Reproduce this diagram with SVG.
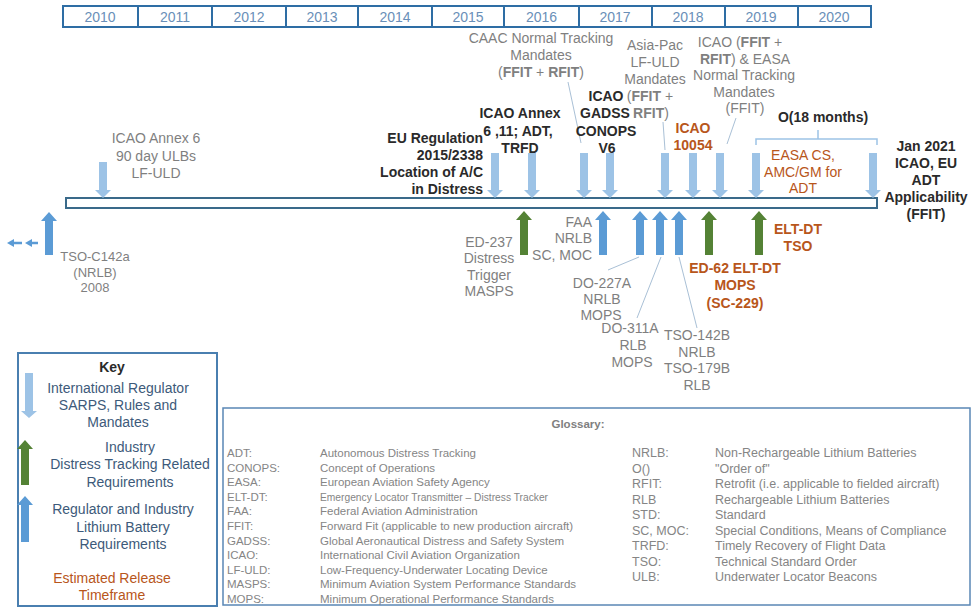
<svg xmlns="http://www.w3.org/2000/svg" width="972" height="607" viewBox="0 0 972 607">
<style>
text{font-family:"Liberation Sans",Arial,sans-serif;font-size:14px;text-anchor:middle}
.yr{fill:#6a8fb8}
.g{fill:#7f7f7f}
.b{font-weight:bold;fill:#2a2a2a}
.br{font-weight:bold;fill:#b8561b}
.brn{fill:#b8561b}
.k{fill:#3d5a7a}
.gl{font-size:11.5px;fill:#858585;text-anchor:start}
.gr{font-size:12.5px;fill:#858585;text-anchor:start}
.dn{fill:#9dc3e6}
.up{fill:#5b9bd5}
.gn{fill:#548235}
.ld{stroke:#a9c0d6;stroke-width:1;fill:none}
</style>
<rect width="972" height="607" fill="#ffffff"/>

<g id="years">
<rect x="63" y="6" width="808" height="21" fill="#fff" stroke="#2e6da4" stroke-width="2"/>
<path d="M138 6V27M212 6V27M286 6V27M358 6V27M432 6V27M504 6V27M579 6V27M652 6V27M725 6V27M798 6V27" stroke="#2e6da4" stroke-width="2"/>
<text class="yr" x="100" y="21.5">2010</text>
<text class="yr" x="175" y="21.5">2011</text>
<text class="yr" x="249" y="21.5">2012</text>
<text class="yr" x="322" y="21.5">2013</text>
<text class="yr" x="395" y="21.5">2014</text>
<text class="yr" x="468" y="21.5">2015</text>
<text class="yr" x="541.5" y="21.5">2016</text>
<text class="yr" x="615" y="21.5">2017</text>
<text class="yr" x="688" y="21.5">2018</text>
<text class="yr" x="761" y="21.5">2019</text>
<text class="yr" x="834" y="21.5">2020</text>
</g>

<g id="timeline">
<rect x="66" y="198" width="811" height="10" fill="#fff" stroke="#3a6a8a" stroke-width="2"/>
</g>

<g id="connectors">
<path class="ld" d="M568 82L581 143"/>
<path class="ld" d="M663 122L665 150"/>
<path class="ld" d="M736 118L727 144"/>
<path d="M756 145V139H877V145M818 139V130" stroke="#9dc3e6" stroke-width="1.5" fill="none"/>
<path class="ld" d="M608 270L639 257"/>
<path class="ld" d="M637 318L661 257"/>
<path class="ld" d="M697 328L679 257"/>
</g>

<g id="icao-annex6">
<polygon class="dn" points="99,162 107,162 107,190 111,190 103,198 95,190 99,190"/>
<text class="g" x="156" y="143">ICAO Annex 6</text>
<text class="g" x="156" y="160.5">90 day ULBs</text>
<text class="g" x="156" y="178">LF-ULD</text>
</g>

<g id="eu-regulation">
<polygon class="dn" points="491,153 499,153 499,190 503,190 495,198 487,190 491,190"/>
<text class="b" style="text-anchor:end" x="483" y="143">EU Regulation</text>
<text class="b" style="text-anchor:end" x="483" y="160">2015/2338</text>
<text class="b" style="text-anchor:end" x="483" y="177">Location of A/C</text>
<text class="b" style="text-anchor:end" x="483" y="194">in Distress</text>
</g>

<g id="icao-annex-6-11">
<polygon class="dn" points="528,153 536,153 536,190 540,190 532,198 524,190 528,190"/>
<text class="b" x="520" y="118">ICAO Annex</text>
<text class="b" x="518" y="136">6 ,11; ADT,</text>
<text class="b" x="520" y="153">TRFD</text>
</g>

<g id="caac">
<polygon class="dn" points="580,153 588,153 588,190 592,190 584,198 576,190 580,190"/>
<text class="g" x="541" y="43">CAAC Normal Tracking</text>
<text class="g" x="541" y="60">Mandates</text>
<text class="g" x="541" y="77">(<tspan font-weight="bold">FFIT</tspan> + <tspan font-weight="bold">RFIT</tspan>)</text>
</g>

<g id="icao-gadss">
<polygon class="dn" points="606,153 614,153 614,190 618,190 610,198 602,190 606,190"/>
<text class="b" x="606" y="101">ICAO</text>
<text class="b" x="605" y="118">GADSS</text>
<text class="b" x="606" y="136">CONOPS</text>
<text class="b" x="607" y="153">V6</text>
</g>

<g id="asia-pac">
<polygon class="dn" points="661,153 669,153 669,190 673,190 665,198 657,190 661,190"/>
<text class="g" x="655" y="50">Asia-Pac</text>
<text class="g" x="655" y="67">LF-ULD</text>
<text class="g" x="655" y="84">Mandates</text>
<text class="g" x="650" y="101">(<tspan font-weight="bold">FFIT</tspan> +</text>
<text class="g" x="651" y="118"><tspan font-weight="bold">RFIT</tspan>)</text>
</g>

<g id="icao-10054">
<polygon class="dn" points="689,153 697,153 697,190 701,190 693,198 685,190 689,190"/>
<text class="br" x="693" y="133">ICAO</text>
<text class="br" x="693" y="150">10054</text>
</g>

<g id="icao-easa-normal">
<polygon class="dn" points="716,153 724,153 724,190 728,190 720,198 712,190 716,190"/>
<text class="g" x="740" y="47">ICAO (<tspan font-weight="bold">FFIT</tspan> +</text>
<text class="g" x="745" y="63.5"><tspan font-weight="bold">RFIT</tspan>) &amp; EASA</text>
<text class="g" x="744" y="80">Normal Tracking</text>
<text class="g" x="744" y="96.5">Mandates</text>
<text class="g" x="745" y="113">(FFIT)</text>
</g>

<g id="easa-cs">
<polygon class="dn" points="752,153 760,153 760,190 764,190 756,198 748,190 752,190"/>
<text class="b" x="823" y="122">O(18 months)</text>
<text class="brn" x="803" y="160">EASA CS,</text>
<text class="brn" x="803" y="177">AMC/GM for</text>
<text class="brn" x="803" y="193">ADT</text>
</g>

<g id="jan-2021">
<polygon class="dn" points="869,153 877,153 877,190 881,190 873,198 865,190 869,190"/>
<text class="b" x="926" y="151">Jan 2021</text>
<text class="b" x="926" y="168">ICAO, EU</text>
<text class="b" x="926" y="185">ADT</text>
<text class="b" x="926" y="202">Applicability</text>
<text class="b" x="926" y="219">(FFIT)</text>
</g>

<g id="tso-c142a">
<polygon class="up" points="49,212 57,221 53,221 53,255 45,255 45,221 41,221"/>
<path d="M12 243H22M31 243H38" stroke="#5b9bd5" stroke-width="2.5"/>
<polygon class="up" points="7,243 14,239 14,247"/>
<polygon class="up" points="25,243 32,239 32,247"/>
<text class="g" style="font-size:13px" x="95" y="261">TSO-C142a</text>
<text class="g" style="font-size:13px" x="95" y="277">(NRLB)</text>
<text class="g" style="font-size:13px" x="95" y="292">2008</text>
</g>

<g id="ed-237">
<polygon class="gn" points="524,211 532,220 528,220 528,255 520,255 520,220 516,220"/>
<text class="g" x="489" y="247">ED-237</text>
<text class="g" x="489" y="263">Distress</text>
<text class="g" x="489" y="280">Trigger</text>
<text class="g" x="489" y="296">MASPS</text>
</g>

<g id="faa-nrlb">
<polygon class="up" points="603,211 611,220 607,220 607,255 599,255 599,220 595,220"/>
<text class="g" style="text-anchor:end" x="592" y="227">FAA</text>
<text class="g" style="text-anchor:end" x="592" y="243">NRLB</text>
<text class="g" style="text-anchor:end" x="592" y="260">SC, MOC</text>
</g>

<g id="do-227a">
<polygon class="up" points="640,211 648,220 644,220 644,255 636,255 636,220 632,220"/>
<text class="g" x="602" y="288">DO-227A</text>
<text class="g" x="602" y="304">NRLB</text>
<text class="g" x="601" y="320">MOPS</text>
</g>

<g id="do-311a">
<polygon class="up" points="660,211 668,220 664,220 664,255 656,255 656,220 652,220"/>
<text class="g" x="630" y="333">DO-311A</text>
<text class="g" x="633" y="350">RLB</text>
<text class="g" x="632" y="367">MOPS</text>
</g>

<g id="tso-142b">
<polygon class="up" points="679,211 687,220 683,220 683,255 675,255 675,220 671,220"/>
<text class="g" x="697" y="340">TSO-142B</text>
<text class="g" x="697" y="357">NRLB</text>
<text class="g" x="697" y="373">TSO-179B</text>
<text class="g" x="697" y="390">RLB</text>
</g>

<g id="ed-62">
<polygon class="gn" points="709,211 717,220 713,220 713,255 705,255 705,220 701,220"/>
<text class="br" x="735" y="273">ED-62 ELT-DT</text>
<text class="br" x="735" y="290">MOPS</text>
<text class="br" x="735" y="308">(SC-229)</text>
</g>

<g id="elt-dt-tso">
<polygon class="gn" points="759,211 767,220 763,220 763,255 755,255 755,220 751,220"/>
<text class="br" x="798" y="234">ELT-DT</text>
<text class="br" x="798" y="251">TSO</text>
</g>

<g id="key">
<rect x="18" y="353" width="199" height="253" fill="#fff" stroke="#4a7fb0" stroke-width="2"/>
<text class="b" x="112" y="372">Key</text>
<polygon class="dn" points="25,373 33,373 33,411 37,411 29,418 21,411 25,411"/>
<text class="k" x="118" y="393">International Regulator</text>
<text class="k" x="118" y="410">SARPS, Rules and</text>
<text class="k" x="118" y="427">Mandates</text>
<polygon class="gn" points="25,440 33,449 29,449 29,485 21,485 21,449 17,449"/>
<text class="k" x="130" y="452">Industry</text>
<text class="k" x="130" y="469">Distress Tracking Related</text>
<text class="k" x="130" y="487">Requirements</text>
<polygon class="up" points="25,496 33,505 29,505 29,542 21,542 21,505 17,505"/>
<text class="k" x="123" y="514">Regulator and Industry</text>
<text class="k" x="123" y="532">Lithium Battery</text>
<text class="k" x="123" y="549">Requirements</text>
<text class="brn" x="112" y="583">Estimated Release</text>
<text class="brn" x="112" y="600">Timeframe</text>
</g>

<g id="glossary">
<rect x="223" y="408" width="747" height="197" fill="#fff" stroke="#5a87b5" stroke-width="1.5"/>
<text style="font-size:11.5px;font-weight:bold;fill:#7f7f7f" x="578" y="428">Glossary:</text>
<text class="gl" x="227" y="457">ADT:</text><text class="gl" x="320" y="457">Autonomous Distress Tracking</text>
<text class="gl" x="227" y="471.6">CONOPS:</text><text class="gl" x="320" y="471.6">Concept of Operations</text>
<text class="gl" x="227" y="486.2">EASA:</text><text class="gl" x="320" y="486.2">European Aviation Safety Agency</text>
<text class="gl" x="227" y="500.8">ELT-DT:</text><text class="gl" x="320" y="500.8" textLength="228" lengthAdjust="spacingAndGlyphs">Emergency Locator Transmitter – Distress Tracker</text>
<text class="gl" x="227" y="515.4">FAA:</text><text class="gl" x="320" y="515.4">Federal Aviation Administration</text>
<text class="gl" x="227" y="530">FFIT:</text><text class="gl" x="320" y="530">Forward Fit (applicable to new production aircraft)</text>
<text class="gl" x="227" y="544.6">GADSS:</text><text class="gl" x="320" y="544.6">Global Aeronautical Distress and Safety System</text>
<text class="gl" x="227" y="559.2">ICAO:</text><text class="gl" x="320" y="559.2">International Civil Aviation Organization</text>
<text class="gl" x="227" y="573.8">LF-ULD:</text><text class="gl" x="320" y="573.8">Low-Frequency-Underwater Locating Device</text>
<text class="gl" x="227" y="588.4">MASPS:</text><text class="gl" x="320" y="588.4">Minimum Aviation System Performance Standards</text>
<text class="gl" x="227" y="603">MOPS:</text><text class="gl" x="320" y="603">Minimum Operational Performance Standards</text>
<text class="gr" x="632" y="457">NRLB:</text><text class="gr" x="715" y="457">Non-Rechargeable Lithium Batteries</text>
<text class="gr" x="632" y="472.5">O()</text><text class="gr" x="715" y="472.5">"Order of"</text>
<text class="gr" x="632" y="488">RFIT:</text><text class="gr" x="715" y="488">Retrofit (i.e. applicable to fielded aircraft)</text>
<text class="gr" x="632" y="503.5">RLB</text><text class="gr" x="715" y="503.5">Rechargeable Lithium Batteries</text>
<text class="gr" x="632" y="519">STD:</text><text class="gr" x="715" y="519">Standard</text>
<text class="gr" x="632" y="534.5">SC, MOC:</text><text class="gr" x="715" y="534.5">Special Conditions, Means of Compliance</text>
<text class="gr" x="632" y="550">TRFD:</text><text class="gr" x="715" y="550">Timely Recovery of Flight Data</text>
<text class="gr" x="632" y="565.5">TSO:</text><text class="gr" x="715" y="565.5">Technical Standard Order</text>
<text class="gr" x="632" y="581">ULB:</text><text class="gr" x="715" y="581">Underwater Locator Beacons</text>
</g>
</svg>
